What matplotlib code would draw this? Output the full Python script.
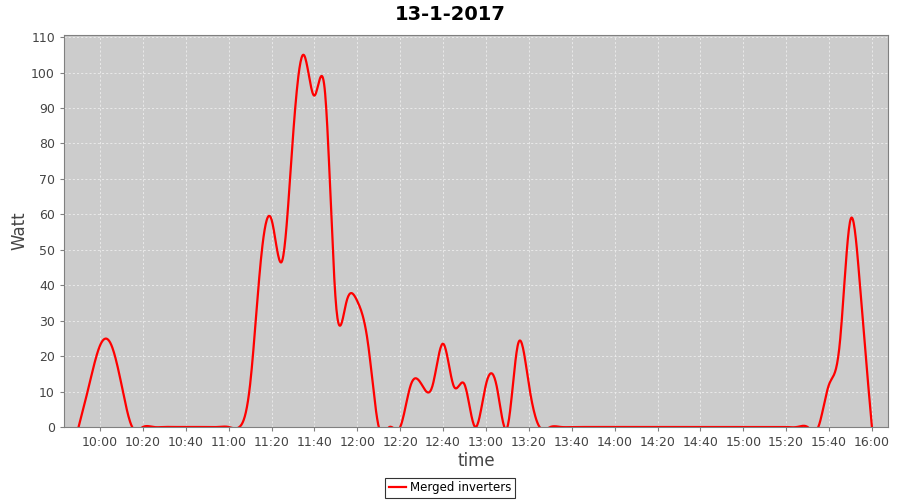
import matplotlib
matplotlib.use("Agg")
import matplotlib.pyplot as plt
from matplotlib.ticker import FuncFormatter, MultipleLocator
import numpy as np

# readings every 5 minutes, 9:50 .. 16:00
times = ["9:50", "9:55", "10:00", "10:05", "10:10", "10:15", "10:20", "10:25",
         "10:30", "10:35", "10:40", "10:45", "10:50", "10:55", "11:00", "11:05",
         "11:10", "11:15", "11:20", "11:25", "11:30", "11:35", "11:40", "11:45",
         "11:50", "11:55", "12:00", "12:05", "12:10", "12:15", "12:20", "12:25",
         "12:30", "12:35", "12:40", "12:45", "12:50", "12:55", "13:00", "13:05",
         "13:10", "13:15", "13:20", "13:25", "13:30", "13:35", "13:40", "13:45",
         "13:50", "13:55", "14:00", "14:05", "14:10", "14:15", "14:20", "14:25",
         "14:30", "14:35", "14:40", "14:45", "14:50", "14:55", "15:00", "15:05",
         "15:10", "15:15", "15:20", "15:25", "15:30", "15:35", "15:40", "15:45",
         "15:50", "15:55", "16:00"]
watt = [0, 12, 23, 23.5, 12, 0, 0, 0,
        0, 0, 0, 0, 0, 0, 0, 0,
        12, 47, 58.5, 47, 82, 105, 93.5, 94,
        35, 35.5, 35.5, 23.5, 0, 0, 0, 12,
        12, 11.5, 23.5, 11.5, 12, 0, 12, 11.5,
        0, 23.5, 12, 0, 0, 0, 0, 0,
        0, 0, 0, 0, 0, 0, 0, 0,
        0, 0, 0, 0, 0, 0, 0, 0,
        0, 0, 0, 0, 0, 0, 12, 23.5,
        58.5, 35.5, 0]
series_name = "Merged inverters"
title = "13-1-2017"


def to_min(s):
    h, m = s.split(":")
    return int(h) * 60 + int(m)


def natural_spline(x, y, n=20):
    # natural cubic spline, like the spline renderer of the original
    x = np.asarray(x, float)
    y = np.asarray(y, float)
    k = len(x)
    h = np.diff(x)
    A = np.zeros((k, k))
    b = np.zeros(k)
    A[0, 0] = A[-1, -1] = 1
    for i in range(1, k - 1):
        A[i, i - 1] = h[i - 1]
        A[i, i] = 2 * (h[i - 1] + h[i])
        A[i, i + 1] = h[i]
        b[i] = 3 * ((y[i + 1] - y[i]) / h[i] - (y[i] - y[i - 1]) / h[i - 1])
    c = np.linalg.solve(A, b)
    xs, ys = [], []
    for i in range(k - 1):
        t = np.linspace(0, h[i], n, endpoint=False)
        bi = (y[i + 1] - y[i]) / h[i] - h[i] * (2 * c[i] + c[i + 1]) / 3
        di = (c[i + 1] - c[i]) / (3 * h[i])
        xs.append(x[i] + t)
        ys.append(y[i] + bi * t + c[i] * t ** 2 + di * t ** 3)
    xs.append([x[-1]])
    ys.append([y[-1]])
    return np.concatenate(xs), np.concatenate(ys)


x = [to_min(t) for t in times]
sx, sy = natural_spline(x, watt)

fig = plt.figure(figsize=(9, 5), dpi=100)
ax = fig.add_axes([64 / 900, 1 - 427 / 500, 824 / 900, 392 / 500])
ax.set_facecolor("#cccccc")
ax.plot(sx, sy, color="red", lw=1.6, label=series_name)

ax.set_xlim(583.2, 967.5)
ax.set_ylim(0, 110.6)
ax.yaxis.set_major_locator(MultipleLocator(10))
ax.xaxis.set_major_locator(MultipleLocator(20))
ax.xaxis.set_major_formatter(FuncFormatter(lambda v, p: "%d:%02d" % (v // 60, v % 60)))
ax.grid(True, color="#eeeeee", ls=(0, (2.5, 2.5)), lw=0.6)
ax.set_axisbelow(True)
for s in ax.spines.values():
    s.set_color("#808080")
ax.tick_params(colors="#808080", labelcolor="#444444", labelsize=9, length=3)
ax.set_xlabel("time", fontsize=12, color="#444444", labelpad=2)
ax.set_ylabel("Watt", fontsize=12, color="#444444", labelpad=2)
fig.suptitle(title, fontsize=14, fontweight="bold", y=0.99)

leg = fig.legend(loc="lower center", bbox_to_anchor=(0.5, 0.0), fontsize=8.5,
                 fancybox=False, edgecolor="black", handlelength=1.5,
                 borderpad=0.3, handletextpad=0.3, borderaxespad=0.2)
leg.get_frame().set_linewidth(0.8)

fig.savefig("out.png")
